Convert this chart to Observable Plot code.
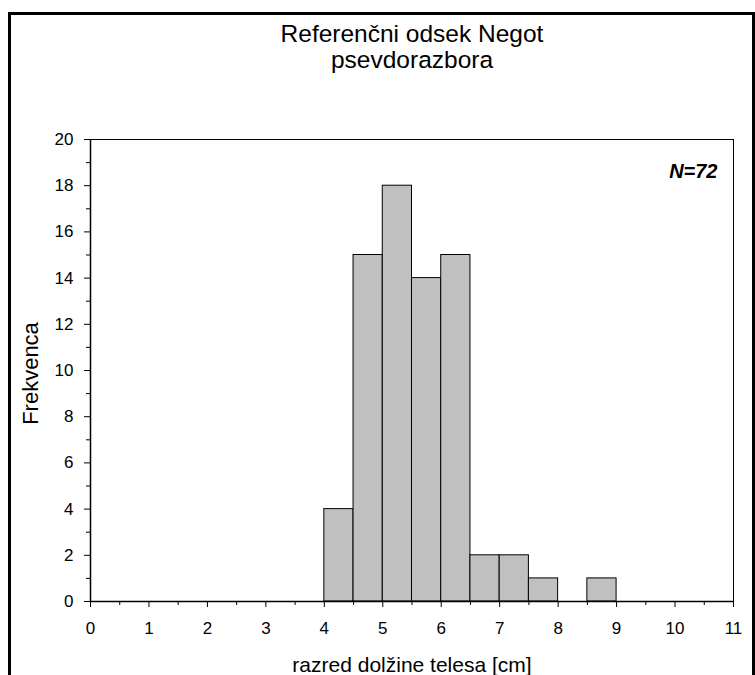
<!DOCTYPE html>
<html><head><meta charset="utf-8">
<script src="https://cdn.jsdelivr.net/npm/d3@7"></script>
<script src="https://cdn.jsdelivr.net/npm/@observablehq/plot@0.6"></script>
<style>
body{margin:0;background:#fff;}
#wrap{position:relative;width:755px;height:675px;}
#border{position:absolute;left:8px;top:12px;width:741px;height:680px;border-left:3px solid #000;border-top:3px solid #000;border-right:3px solid #000;pointer-events:none;}
svg{font-family:Arial,"Liberation Sans",sans-serif;}
</style></head>
<body><div id="wrap"><div id="border"></div></div>
<script>
const binStart = [4, 4.5, 5, 5.5, 6, 6.5, 7, 7.5, 8.5];
const binEnd   = [4.5, 5, 5.5, 6, 6.5, 7, 7.5, 8, 9];
const counts   = [4, 15, 18, 14, 15, 2, 2, 1, 1];
const xTicks = [0,1,2,3,4,5,6,7,8,9,10,11];
const xMinor = [0.5,1.5,2.5,3.5,4.5,5.5,6.5,7.5,8.5,9.5,10.5];
const yTicks = [0,2,4,6,8,10,12,14,16,18,20];
const yMinor = [1,3,5,7,9,11,13,15,17,19];
const titleLines = ["Referenčni odsek Negot", "psevdorazbora"];
const xLabel = "razred dolžine telesa [cm]";
const yLabel = "Frekvenca";
const nLabel = "N=72";

const bins = binStart.map((s,i)=>({x1:s, x2:binEnd[i], y:counts[i]}));

const chart = Plot.plot({
  width: 755, height: 675,
  marginLeft: 90, marginRight: 22, marginTop: 139, marginBottom: 74,
  style: {fontFamily: "Arial, 'Liberation Sans', sans-serif", background: "transparent", overflow: "visible"},
  x: {domain: [0, 11], label: null, axis: null},
  y: {domain: [0, 20], label: null, axis: null},
  marks: [
    Plot.rectY(bins, {x1: "x1", x2: "x2", y: "y", fill: "#c0c0c0", stroke: "#000", strokeWidth: 1, inset: 0}),
    Plot.ruleY([20], {stroke: "#000", strokeWidth: 1}),
    Plot.ruleX([11], {stroke: "#000", strokeWidth: 1}),
    Plot.ruleY([0], {stroke: "#000", strokeWidth: 1.5}),
    Plot.ruleX([0], {stroke: "#000", strokeWidth: 1.5}),
    Plot.axisX({ticks: xTicks, tickSize: 6, text: null, stroke: "#000", label: null}),
    Plot.axisX({ticks: xMinor, tickSize: 4, text: null, stroke: "#000", label: null}),
    Plot.axisY({ticks: yTicks, tickSize: 6, text: null, stroke: "#000", label: null}),
    Plot.axisY({ticks: yMinor, tickSize: 4, text: null, stroke: "#000", label: null}),
    Plot.text(xTicks, {x: d => d, text: d => String(d), frameAnchor: "bottom", lineAnchor: "middle", dy: 27, fontSize: 17, fill: "#000"}),
    Plot.text(yTicks, {y: d => d, text: d => String(d), frameAnchor: "left", lineAnchor: "middle", textAnchor: "end", dx: -17, fontSize: 17, fill: "#000"}),
    Plot.text([nLabel], {frameAnchor: "top-right", lineAnchor: "middle", dx: -16, dy: 32, fontSize: 20, fontWeight: "bold", fontStyle: "italic", fill: "#000", textAnchor: "end"}),
    Plot.text([titleLines[0]], {frameAnchor: "top", lineAnchor: "middle", dy: -105, fontSize: 24.5, fill: "#000"}),
    Plot.text([titleLines[1]], {frameAnchor: "top", lineAnchor: "middle", dy: -79, fontSize: 24.5, fill: "#000"}),
    Plot.text([xLabel], {frameAnchor: "bottom", lineAnchor: "middle", dy: 64, fontSize: 21, fill: "#000"}),
    Plot.text([yLabel], {frameAnchor: "left", lineAnchor: "middle", textAnchor: "middle", dx: -60, dy: 3, rotate: -90, fontSize: 22, fill: "#000"})
  ]
});
document.getElementById("wrap").prepend(chart);
</script>
</body></html>
